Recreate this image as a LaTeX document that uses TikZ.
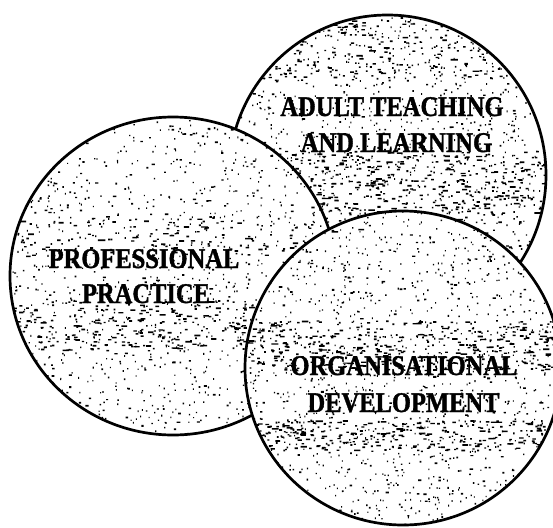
\documentclass[tikz,border=0pt]{standalone}
\usepackage{fontspec}
\usetikzlibrary{shapes.geometric}
\newfontfamily\capfont{Liberation Serif}[FakeStretch=0.86, BoldFeatures={FakeBold=1.2}]

% random specks over the whole path picture: half width, half height, count
\newcommand\stipplefill[3]{%
  \fill[black] \foreach \k in {1,...,#3} {
    ([shift={({#1*(2*rnd-1)},{#2*(2*rnd-1)})}]path picture bounding box.center)
      rectangle ++({1+3.8*rnd*rnd*rnd},{1.2+0.7*rnd})
  };
}
% horizontal streaks in a band: half width, band top, band bottom, count
\newcommand\streakband[4]{%
  \fill[black] \foreach \k in {1,...,#4} {
    ([shift={({#1*(2*rnd-1)},{#2+(#3-#2)*rnd})}]path picture bounding box.center)
      rectangle ++({1.5+6*rnd*rnd},{1.2+0.6*rnd})
  };
}

\tikzset{
  disc/.style 2 args={
    ellipse, draw=black, line width=2.7pt, fill=white,
    inner sep=0pt, outer sep=0pt,
    minimum width={2*#1pt}, minimum height={2*#2pt}
  },
  captext/.style={font=\capfont\bfseries\fontsize{28.5}{35}\selectfont,
    anchor=base, inner sep=0pt, text=black}
}

\begin{document}
\begin{tikzpicture}[x=1pt,y=-1pt]
\useasboundingbox (0,0) rectangle (553,527);
\fill[white] (0,0) rectangle (553,527);
\pgfmathsetseed{4711}
\begin{scope}
\clip (0,0) rectangle (553,527);
% three overlapping stippled discs, back to front
\node[disc={158.5}{160}, path picture={
    \stipplefill{158.5}{160}{1500}
    \streakband{158.5}{-155}{-95}{260}
    \streakband{158.5}{-25}{40}{420}}] (adult) at (387.5,175) {};
\node[disc={163}{159}, path picture={
    \stipplefill{163}{159}{1300}
    \streakband{163}{24}{74}{300}
    \streakband{163}{-60}{-20}{120}}] (practice) at (173,276) {};
\node[disc={158}{157}, path picture={
    \stipplefill{158}{157}{1500}
    \streakband{158}{-48}{2}{380}
    \streakband{158}{52}{82}{260}}] (organisation) at (403,368) {};
\end{scope}

% disc captions
\node[captext] (at1) at (392,116) {ADULT TEACHING};
\node[captext] (at2) at (396.5,152) {AND LEARNING};
\node[captext] (pp1) at (144,268) {PROFESSIONAL};
\node[captext] (pp2) at (146,303) {PRACTICE};
\node[captext] (od1) at (404,375) {ORGANISATIONAL};
\node[captext] (od2) at (403.5,412) {DEVELOPMENT};
\end{tikzpicture}
\end{document}
